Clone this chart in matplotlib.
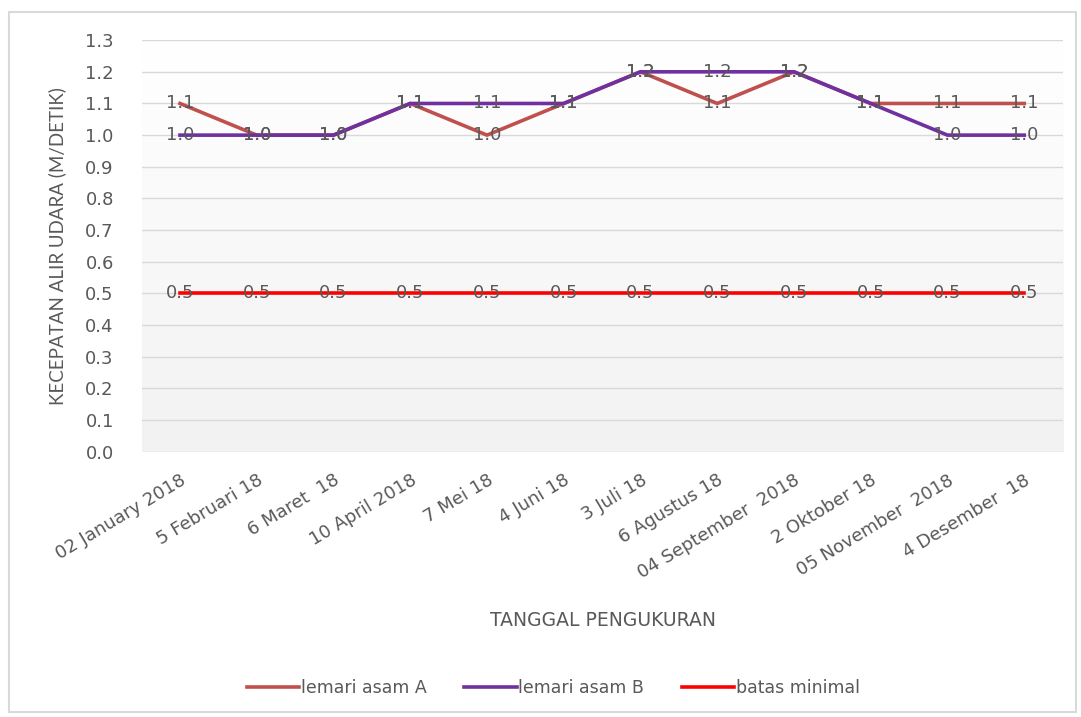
import numpy as np
import matplotlib.pyplot as plt
from matplotlib.colors import LinearSegmentedColormap
from matplotlib.patches import Rectangle

plt.rcParams['font.family'] = ['DejaVu Sans']

# data
tanggal = ['02 January 2018', '5 Februari 18', '6 Maret  18', '10 April 2018',
           '7 Mei 18', '4 Juni 18', '3 Juli 18', '6 Agustus 18',
           '04 September  2018', '2 Oktober 18', '05 November  2018', '4 Desember  18']
lemari_a = [1.1, 1.0, 1.0, 1.1, 1.0, 1.1, 1.2, 1.1, 1.2, 1.1, 1.1, 1.1]
lemari_b = [1.0, 1.0, 1.0, 1.1, 1.1, 1.1, 1.2, 1.2, 1.2, 1.1, 1.0, 1.0]
batas = [0.5] * 12

txt = '#595959'

fig = plt.figure(figsize=(10.81, 7.17), dpi=100)
fig.patches.append(Rectangle((0.008, 0.007), 0.987, 0.976, transform=fig.transFigure,
                             fill=False, edgecolor='#d9d9d9', linewidth=1.5))

ax = fig.add_axes([0.131, 0.370, 0.852, 0.574])
x = np.arange(len(tanggal))
ax.set_xlim(-0.5, len(tanggal) - 0.5)
ax.set_ylim(0, 1.3)

# gradient background, white on top, light gray at bottom
grad = np.linspace(0, 1, 256).reshape(-1, 1)
cm_bg = LinearSegmentedColormap.from_list('g', ['#f2f2f2', '#ffffff'])
ax.imshow(grad, aspect='auto', cmap=cm_bg, extent=[-0.5, len(tanggal) - 0.5, 0, 1.3],
          origin='lower', zorder=0, vmin=0, vmax=1)

ax.set_yticks(np.arange(0, 1.31, 0.1))
ax.yaxis.set_major_formatter(plt.FormatStrFormatter('%.1f'))
ax.grid(axis='y', color='#d9d9d9', linewidth=1)
ax.set_axisbelow(True)
for s in ax.spines.values():
    s.set_visible(False)
ax.tick_params(length=0, colors=txt)
ax.tick_params(axis='y', labelsize=13, pad=20)

ax.plot(x, lemari_a, color='#C0504D', lw=2.6, label='lemari asam A', zorder=3)
ax.plot(x, lemari_b, color='#7030A0', lw=2.6, label='lemari asam B', zorder=3)
ax.plot(x, batas, color='#FF0000', lw=2.6, label='batas minimal', zorder=3)

for series in (lemari_a, lemari_b, batas):
    for xi, v in zip(x, series):
        ax.text(xi, v, f'{v:.1f}', ha='center', va='center', color=txt,
                fontsize=13, zorder=4)

ax.set_xticks(x)
ax.set_xticklabels(tanggal, rotation=31, ha='right', rotation_mode='anchor')
ax.tick_params(axis='x', labelsize=13, pad=14)

ax.set_ylabel('KECEPATAN ALIR UDARA (M/DETIK)', color=txt, fontsize=13.5,
              family='Lato', labelpad=14)
fig.text(0.558, 0.135, 'TANGGAL PENGUKURAN', ha='center', va='center',
         color=txt, fontsize=13.5)

fig.legend(loc='center', bbox_to_anchor=(0.512, 0.04), ncol=3, frameon=False,
           fontsize=12.5, handlelength=3.0, handletextpad=0.1, columnspacing=2.2,
           labelcolor=txt)

fig.savefig('out.png', dpi=100)
